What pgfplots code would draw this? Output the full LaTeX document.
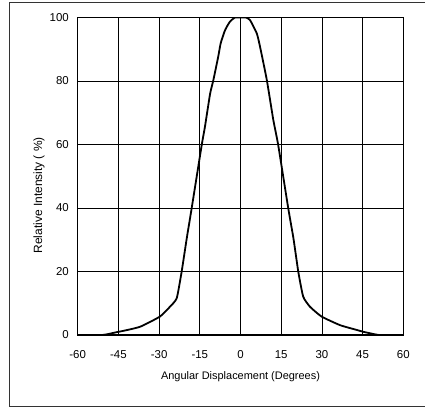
\documentclass[border=0pt]{standalone}
\usepackage{fontspec}
\setmainfont{Liberation Sans}
\usepackage{pgfplots}
\pgfplotsset{compat=1.18}

\begin{document}
\begin{tikzpicture}
% page size = reference size, axis box lower-left at (0,0)
\useasboundingbox (-77.7bp,-74bp) rectangle (347.3bp,335bp);
\draw[line width=1bp, black!80] (347.3bp,332bp) -- (-68.2bp,332bp) -- (-68.2bp,-71.5bp) -- (347.3bp,-71.5bp);

\begin{axis}[
at={(0,0)}, anchor=south west,
scale only axis,
width=325.6bp, height=317.5bp,
xmin=-60, xmax=60,
ymin=0, ymax=100,
xtick={-60,-45,...,60},
ytick={0,20,...,100},
grid=major,
grid style={black, line width=0.7bp},
axis line style={line width=1.6bp},
major tick length=0pt,
/pgf/number format/assume math mode=true,
tick label style={font=\fontsize{11.5}{13}\selectfont},
xticklabel style={anchor=center, yshift=-20bp},
yticklabel style={anchor=east, inner sep=0pt, xshift=-8.7bp},
xlabel={Angular Displacement (Degrees)},
ylabel={Relative Intensity ( \%)},
xlabel style={font=\fontsize{11}{13}\selectfont, at={(axis description cs:0.5,-0.131)}, anchor=center},
ylabel style={font=\fontsize{12}{14}\selectfont, at={(axis description cs:-0.119,0.44)}, anchor=center},
]
\addplot [black, line width=1.8bp, smooth, tension=0.3]
table {%
-51 0
-49.3 0.2
-45.6 0.9
-43.2 1.3
-37 2.6
-29.7 5.8
-26 8.9
-23.5 11.6
-21.7 19.9
-19.8 30.5
-18 39.9
-14.3 59.8
-13.1 65.6
-11.2 76
-10 80.3
-8.2 87.7
-7.3 91.9
-5.7 96
-3.9 98.7
-2 100
0 100
2 100
3.5 99.2
6 95
7.2 90.8
9.7 80.3
12.1 67.7
13.9 59.8
17.6 39.9
19.5 30.5
21.3 19.9
23.1 12.1
25.6 8.9
29.9 5.8
36.7 3.1
42.8 1.6
45.3 1.0
49.6 0.2
51 0
};
\end{axis}
\end{tikzpicture}
\end{document}
